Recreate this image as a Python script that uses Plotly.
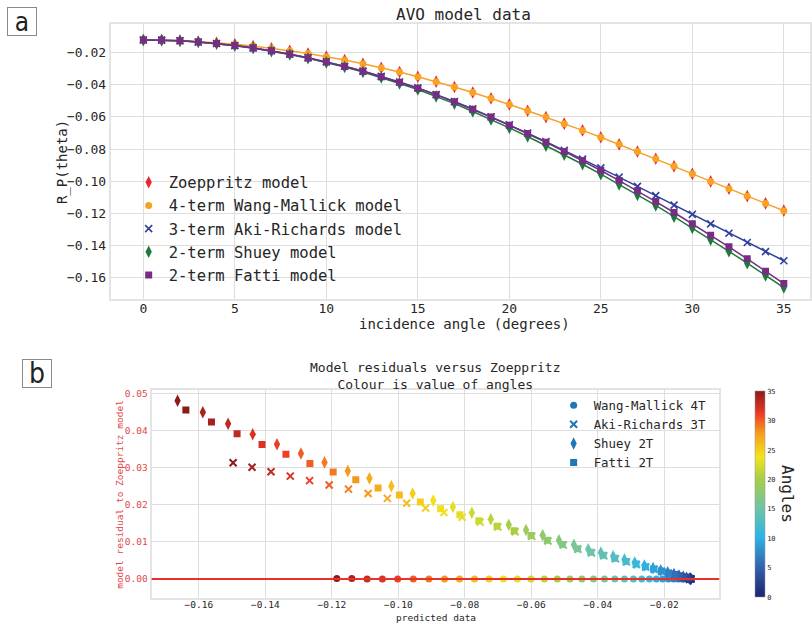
import plotly.graph_objects as go

# ---------------- data ----------------
angles = list(range(36))

zoeppritz = [-0.0120, -0.0121, -0.0124, -0.0130, -0.0137, -0.0147, -0.0158, -0.0172,
             -0.0188, -0.0205, -0.0224, -0.0245, -0.0268, -0.0293, -0.0320, -0.0349,
             -0.0380, -0.0413, -0.0448, -0.0484, -0.0522, -0.0561, -0.0601, -0.0642,
             -0.0684, -0.0727, -0.0771, -0.0816, -0.0861, -0.0908, -0.0955, -0.1002,
             -0.1048, -0.1094, -0.1139, -0.1184]

wang_mallick = [-0.0120, -0.0121, -0.0124, -0.0130, -0.0137, -0.0147, -0.0158, -0.0172,
                -0.0188, -0.0205, -0.0224, -0.0245, -0.0268, -0.0293, -0.0320, -0.0349,
                -0.0380, -0.0413, -0.0448, -0.0484, -0.0522, -0.0561, -0.0601, -0.0642,
                -0.0684, -0.0727, -0.0771, -0.0816, -0.0861, -0.0908, -0.0955, -0.1002,
                -0.1048, -0.1094, -0.1140, -0.1185]

aki_richards = [-0.0120, -0.0121, -0.0125, -0.0133, -0.0142, -0.0155, -0.0169, -0.0187,
                -0.0208, -0.0231, -0.0256, -0.0284, -0.0314, -0.0347, -0.0382, -0.0419,
                -0.0460, -0.0504, -0.0550, -0.0599, -0.0649, -0.0701, -0.0754, -0.0808,
                -0.0863, -0.0918, -0.0975, -0.1033, -0.1091, -0.1150, -0.1208, -0.1267,
                -0.1325, -0.1383, -0.1440, -0.1497]

shuey = [-0.0120, -0.0121, -0.0125, -0.0133, -0.0143, -0.0156, -0.0171, -0.0190,
         -0.0211, -0.0234, -0.0260, -0.0289, -0.0320, -0.0354, -0.0391, -0.0429,
         -0.0472, -0.0517, -0.0566, -0.0616, -0.0668, -0.0722, -0.0779, -0.0836,
         -0.0895, -0.0957, -0.1021, -0.1087, -0.1152, -0.1222, -0.1293, -0.1365,
         -0.1438, -0.1512, -0.1588, -0.1664]

fatti = [-0.0120, -0.0121, -0.0125, -0.0133, -0.0142, -0.0155, -0.0170, -0.0188,
         -0.0209, -0.0232, -0.0257, -0.0285, -0.0315, -0.0349, -0.0384, -0.0421,
         -0.0461, -0.0506, -0.0552, -0.0601, -0.0652, -0.0703, -0.0758, -0.0815,
         -0.0873, -0.0934, -0.0997, -0.1061, -0.1128, -0.1196, -0.1266, -0.1338,
         -0.1410, -0.1485, -0.1562, -0.1639]

angle_ticks = [0, 5, 10, 15, 20, 25, 30, 35]
baseline = 0.0

# ---------------- style ----------------
W, H = 812, 625
MONO = "DejaVu Sans Mono"
TXT = "#262626"
GRID = "#dedede"
RES_RED = "#e04848"

colorscale = [
    [0.00, "#1c2470"],
    [0.14, "#3160ad"],
    [0.29, "#2db4e6"],
    [0.43, "#6ec4a6"],
    [0.57, "#a6cd47"],
    [0.68, "#f2e41c"],
    [0.80, "#f7981e"],
    [0.89, "#ee3a25"],
    [1.00, "#8b1a1a"],
]


def px_x(px):
    return px / W


def px_y(py):
    return 1 - py / H


def residual(model):
    return [z - m for z, m in zip(zoeppritz, model)]


fig = go.Figure()

# ---------------- panel a: model curves ----------------
curve_specs = [
    ("Zoeppritz model", zoeppritz, "diamond-tall", 9, "#e8282c", False),
    ("4-term Wang-Mallick model", wang_mallick, "circle", 7, "#f7a126", True),
    ("3-term Aki-Richards model", aki_richards, "x-thin", 7, "#30409c", True),
    ("2-term Shuey model", shuey, "diamond-tall", 9, "#1d7a3a", True),
    ("2-term Fatti model", fatti, "square", 7, "#772d84", True),
]


def curve_marker(sym, size, color):
    mk = dict(symbol=sym, size=size, color=color)
    if sym == "x-thin":
        mk["line"] = dict(color=color, width=1.6)
    return mk


for name, vals, sym, size, color, with_line in curve_specs:
    fig.add_trace(go.Scatter(
        x=angles, y=vals, mode="lines+markers" if with_line else "markers",
        name=name, showlegend=False,
        marker=curve_marker(sym, size, color),
        line=dict(color=color, width=1.5),
        xaxis="x", yaxis="y"))

# marker-only legend entries for panel a
for name, vals, sym, size, color, with_line in curve_specs:
    fig.add_trace(go.Scatter(
        x=[None], y=[None], mode="markers", name=name,
        marker=curve_marker(sym, size, color),
        xaxis="x", yaxis="y", legend="legend"))

# ---------------- panel b: residuals coloured by angle ----------------
res_models = [
    ("Wang-Mallick 4T", wang_mallick, "circle", 7),
    ("Aki-Richards 3T", aki_richards, "x-thin", 7),
    ("Shuey 2T", shuey, "diamond-tall", 9),
    ("Fatti 2T", fatti, "square", 7),
]
for i, (label, model, sym, size) in enumerate(res_models):
    marker = dict(symbol=sym, size=size, color=angles, colorscale=colorscale,
                  cmin=0, cmax=35)
    if sym == "x-thin":
        marker["line"] = dict(color=angles, colorscale=colorscale, cmin=0, cmax=35,
                              width=2)
    if i == 0:
        marker["showscale"] = True
        marker["colorbar"] = dict(
            x=px_x(757), xanchor="left", xpad=0,
            y=px_y(493.7), yanchor="middle", ypad=0,
            len=207 / H, lenmode="fraction",
            thickness=10, thicknessmode="pixels",
            outlinewidth=0.5, outlinecolor="#999999",
            tickvals=angle_ticks, ticks="",
            tickfont=dict(family=MONO, size=7, color=TXT))
    fig.add_trace(go.Scatter(
        x=model, y=residual(model), mode="markers", showlegend=False,
        marker=marker, xaxis="x2", yaxis="y2"))

# legend entries for panel b (single colour swatches)
for label, model, sym, size in res_models:
    mk = dict(symbol=sym, size=size, color="#1f77b4")
    if sym == "x-thin":
        mk["line"] = dict(color="#1f77b4", width=2)
    fig.add_trace(go.Scatter(
        x=[None], y=[None], mode="markers", name=label, marker=mk,
        xaxis="x2", yaxis="y2", legend="legend2"))

axis_common = dict(showgrid=True, gridcolor=GRID, gridwidth=1, zeroline=False,
                   showline=True, linecolor="#e4e4e4", linewidth=2, mirror=True,
                   ticks="")

fig.update_layout(
    width=W, height=H,
    margin=dict(l=0, r=0, t=0, b=0),
    paper_bgcolor="white", plot_bgcolor="white",
    font=dict(family=MONO, color=TXT),
    xaxis=dict(domain=[px_x(111), 1.0], range=[-1.783, 36.43],
               tickvals=angle_ticks, tickfont=dict(size=13, color=TXT),
               ticklabelstandoff=-4, anchor="y", **axis_common),
    yaxis=dict(domain=[px_y(297.7), px_y(20.7)], range=[-0.1737, -0.0018],
               dtick=0.02, tick0=0, tickformat=".2f",
               tickfont=dict(size=13, color=TXT), anchor="x", **axis_common),
    xaxis2=dict(domain=[px_x(152), px_x(721)], range=[-0.1742, -0.0035],
                dtick=0.02, tick0=0, tickformat=".2f",
                tickfont=dict(size=9.5, color=TXT), ticklabelstandoff=-3,
                anchor="y2", **axis_common),
    yaxis2=dict(domain=[px_y(597.7), px_y(389.3)], range=[-0.0051, 0.0508],
                dtick=0.01, tick0=0, tickformat=".2f",
                tickfont=dict(size=9.5, color=RES_RED), anchor="x2", **axis_common),
    legend=dict(x=px_x(129), y=px_y(163.5), xanchor="left", yanchor="top",
                bgcolor="rgba(0,0,0,0)", font=dict(family=MONO, size=15.5, color=TXT),
                tracegroupgap=0),
    legend2=dict(x=px_x(555), y=px_y(389.5), xanchor="left", yanchor="top",
                 bgcolor="rgba(0,0,0,0)", font=dict(family=MONO, size=12.4, color=TXT),
                 tracegroupgap=0),
    shapes=[dict(type="line", xref="x2 domain", x0=0, x1=1, yref="y2",
                 y0=baseline, y1=baseline, line=dict(color="#e8302c", width=2),
                 layer="above")],
)

annotations = [
    # panel a titles
    dict(text="AVO model data", x=px_x(465), y=px_y(12), font=dict(size=16)),
    dict(text="incidence angle (degrees)", x=px_x(466), y=px_y(323), font=dict(size=14)),
    dict(text="R_P(theta)", x=px_x(62), y=px_y(160), textangle=-90, font=dict(size=14)),
    # panel b titles
    dict(text="Model residuals versus Zoeppritz<br>Colour is value of angles",
         x=px_x(436), y=px_y(374.5), font=dict(size=13)),
    dict(text="predicted data", x=px_x(437), y=px_y(617), font=dict(size=9.5)),
    dict(text="model residual to Zoeppritz model", x=px_x(119), y=px_y(493.5),
         textangle=-90, font=dict(size=9.5, color=RES_RED)),
    dict(text="Angles", x=px_x(790), y=px_y(493.5), textangle=90, font=dict(size=16)),
]
for a in annotations:
    a.update(xref="paper", yref="paper", showarrow=False, xanchor="center",
             yanchor="middle")
    fig.add_annotation(**a)

# panel letters
for letter, cx, cy, sz in [("a", 21.7, 18.2, 26), ("b", 37.3, 372, 28)]:
    fig.add_annotation(
        text=letter, xref="paper", yref="paper", x=px_x(cx), y=px_y(cy),
        showarrow=False, xanchor="center", yanchor="middle",
        width=28, height=27, align="center", valign="middle",
        bgcolor="white", bordercolor="#8a8a8a", borderwidth=1, borderpad=0,
        font=dict(family="DejaVu Sans Condensed, Liberation Sans Narrow, sans-serif",
                  size=sz, color="#222222"))

fig.write_html("out.html")
